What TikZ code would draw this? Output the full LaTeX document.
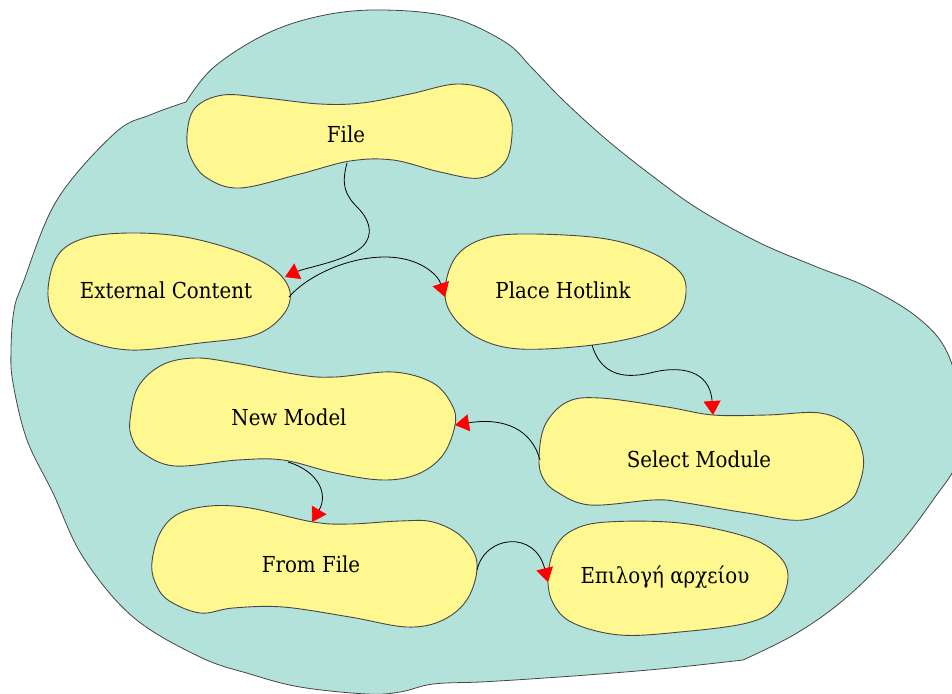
\documentclass[tikz,border=0pt]{standalone}
\usepackage{fontspec}
\setmainfont{DejaVu Serif Condensed}
\newfontfamily\labelfont{DejaVu Serif Condensed}
\usetikzlibrary{arrows.meta}

\definecolor{regionfill}{RGB}{179,226,218}
\definecolor{stepfill}{RGB}{255,247,143}
\definecolor{edgegray}{RGB}{70,70,70}

\tikzset{
  region/.style={fill=regionfill, draw=edgegray, line width=0.8pt},
  stepshape/.style={fill=stepfill, draw=edgegray, line width=0.9pt},
  steplabel/.style={anchor=base, inner sep=0pt,
    font=\labelfont\fontsize{22}{26}\selectfont},
  flow/.style={draw=black, line width=0.8pt,
    -{Triangle[length=14pt,width=17pt,color=red,fill=red]}},
}

\begin{document}
\begin{tikzpicture}[x=1pt,y=-1pt]
\clip (0,0) rectangle (952,693);
\useasboundingbox (0,0) rectangle (952,693);

% surrounding region
\path[region]
  plot[smooth,tension=0.6] coordinates {(186,102) (214,67) (268,33) (325,15) (383,10)
    (450,17) (505,42) (532,68) (563,100) (607,140) (655,178) (700,210) (760,243)
    (817,267) (867,287) (917,317) (947,352) (962,410) (958,460) (933,500) (897,547)
    (847,597) (797,633) (743,660)}
  -- plot[smooth,tension=0.6] coordinates {(743,660) (670,668) (600,674) (530,679)
    (480,682) (433,684) (400,692) (367,694) (300,687) (250,674) (200,657) (133,617)
    (83,557) (53,493) (27,440) (13,383) (11,350) (14,310) (23,283) (57,200)
    (115,133) (150,115) (186,102)}
  -- cycle;

% step shapes
\path[stepshape] plot[smooth cycle,tension=0.6] coordinates {(187,135) (195,108)
  (223,95) (265,98) (320,104) (362,103) (410,94) (457,84) (492,92) (509,112)
  (512,135) (505,162) (480,178) (440,172) (393,160) (350,161) (300,174) (240,188)
  (207,178) (191,158)};
\path[stepshape] plot[smooth cycle,tension=0.6] coordinates {(48,290) (58,255)
  (85,238) (130,233) (185,237) (240,252) (275,270) (290,292) (283,315) (255,335)
  (200,343) (130,350) (80,338) (55,318)};
\path[stepshape] plot[smooth cycle,tension=0.6] coordinates {(445,290) (455,258)
  (480,240) (520,234) (600,238) (650,252) (680,272) (686,292) (678,315) (650,333)
  (593,345) (520,349) (478,338) (452,315)};
\path[stepshape] plot[smooth cycle,tension=0.6] coordinates {(130,420) (138,387)
  (162,365) (195,358) (235,363) (300,375) (335,377) (393,372) (433,383) (452,405)
  (455,425) (443,455) (418,474) (383,480) (335,473) (283,460) (238,460) (175,466)
  (143,453) (132,438)};
\path[stepshape] plot[smooth cycle,tension=0.6] coordinates {(539,458) (545,425)
  (567,402) (600,398) (667,407) (713,415) (767,415) (820,413) (850,427) (863,455)
  (860,482) (847,503) (803,520) (747,513) (680,502) (653,500) (590,505) (557,492)
  (543,478)};
\path[stepshape] plot[smooth cycle,tension=0.6] coordinates {(152,562) (160,533)
  (178,514) (210,506) (250,508) (313,522) (350,524) (400,521) (433,522) (462,537)
  (477,563) (468,598) (443,620) (407,627) (350,617) (283,607) (233,608) (200,613)
  (168,600) (155,582)};
\path[stepshape] plot[smooth cycle,tension=0.6] coordinates {(548,577) (555,548)
  (573,530) (607,522) (680,523) (747,537) (778,555) (788,577) (777,607) (747,623)
  (680,632) (620,635) (573,623) (553,603)};

% labels
\node[steplabel] (file) at (346,142) {File};
\node[steplabel] (extcontent) at (166,298) {External Content};
\node[steplabel] (hotlink) at (563,298) {Place Hotlink};
\node[steplabel] (newmodel) at (289,425) {New Model};
\node[steplabel] (selmodule) at (699,467) {Select Module};
\node[steplabel] (fromfile) at (311,572) {From File};
\node[steplabel] (choosefile) at (665,583) {Επιλογή αρχείου};

% connector ends on the shape outlines
\coordinate (file-out) at (347,163);
\coordinate (ext-in) at (285,277);
\coordinate (ext-out) at (289,297);
\coordinate (hot-in) at (445,297);
\coordinate (hot-out) at (592,345);
\coordinate (sel-in) at (713,415);
\coordinate (sel-out) at (540,460);
\coordinate (new-in) at (455,425);
\coordinate (new-out) at (288,462);
\coordinate (from-in) at (312,522);
\coordinate (from-out) at (477,570);
\coordinate (choose-in) at (548,582);

% connectors
\draw[flow] (file-out) .. controls (341,185) and (345,195) .. (358,208)
  .. controls (371,221) and (376,240) .. (355,252)
  .. controls (335,263) and (305,268) .. (ext-in);
\draw[flow] (ext-out) .. controls (305,278) and (345,257) .. (385,257)
  .. controls (420,257) and (438,275) .. (hot-in);
\draw[flow] (hot-out) .. controls (600,372) and (620,380) .. (650,373)
  .. controls (680,365) and (710,370) .. (sel-in);
\draw[flow] (sel-out) .. controls (532,430) and (505,417) .. (new-in);
\draw[flow] (new-out) .. controls (320,472) and (328,495) .. (from-in);
\draw[flow] (from-out) .. controls (485,535) and (535,530) .. (choose-in);
\end{tikzpicture}
\end{document}
